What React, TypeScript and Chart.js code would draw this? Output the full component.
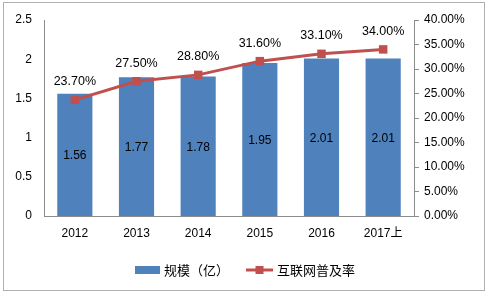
import React, { useEffect, useRef } from "react";
import { Chart, registerables } from "chart.js";

Chart.register(...registerables);

const categories = ["2012", "2013", "2014", "2015", "2016", "2017上"];
const scaleValues = [1.56, 1.77, 1.78, 1.95, 2.01, 2.01];
const penetrationValues = [23.7, 27.5, 28.8, 31.6, 33.1, 34.0];
const seriesNames = ["规模（亿）", "互联网普及率"];
const leftMax = 2.5;
const leftStep = 0.5;
const rightMax = 40;
const rightStep = 5;

const BLUE = "#4F81BD";
const RED = "#C0504D";
const AXIS = "#8c8c8c";
const NUM_FONT = "'Liberation Sans', Arial, sans-serif";
const CJK_FONT = "'Liberation Sans', 'Noto Sans CJK SC', sans-serif";

const labelPlugin = {
  id: "labelsAndLegend",
  beforeDraw(chart: any) {
    const ctx = chart.ctx;
    ctx.save();
    ctx.fillStyle = "#ffffff";
    ctx.fillRect(0, 0, chart.width, chart.height);
    ctx.strokeStyle = "#b0b0b0";
    ctx.lineWidth = 1;
    ctx.strokeRect(3.5, 2.5, 481, 288);
    ctx.restore();
  },
  afterDatasetsDraw(chart: any) {
    const ctx = chart.ctx;
    ctx.save();
    ctx.fillStyle = "#000000";
    ctx.textAlign = "center";
    ctx.textBaseline = "middle";
    ctx.font = `12px ${NUM_FONT}`;
    const barMeta = chart.getDatasetMeta(0);
    barMeta.data.forEach((bar: any, i: number) => {
      const p = bar.getProps(["x", "y", "base"], true);
      const v = chart.data.datasets[0].data[i] as number;
      ctx.fillText(v.toFixed(2), p.x, (p.y + p.base) / 2 + 1);
    });
    ctx.font = `12.5px ${NUM_FONT}`;
    const lineMeta = chart.getDatasetMeta(1);
    lineMeta.data.forEach((pt: any, i: number) => {
      const p = pt.getProps(["x", "y"], true);
      const v = chart.data.datasets[1].data[i] as number;
      ctx.fillText(v.toFixed(2) + "%", p.x, p.y - 18);
    });

    // legend
    const ds = chart.data.datasets;
    const ly = 270;
    ctx.fillStyle = ds[0].backgroundColor;
    ctx.fillRect(135, ly - 4, 25, 8);
    ctx.fillStyle = "#000000";
    ctx.textAlign = "left";
    ctx.font = `13px ${CJK_FONT}`;
    ctx.fillText(ds[0].label, 164, ly + 1);
    ctx.strokeStyle = ds[1].borderColor;
    ctx.lineWidth = 3;
    ctx.beginPath();
    ctx.moveTo(246, ly);
    ctx.lineTo(273, ly);
    ctx.stroke();
    ctx.fillStyle = ds[1].borderColor;
    ctx.fillRect(255.5, ly - 4, 8, 8);
    ctx.fillStyle = "#000000";
    ctx.fillText(ds[1].label, 277, ly + 1);
    ctx.restore();
  },
};

export default function App() {
  const ref = useRef<HTMLCanvasElement | null>(null);
  useEffect(() => {
    if (!ref.current) return;
    const chart = new Chart(ref.current, {
      type: "bar",
      data: {
        labels: categories,
        datasets: [
          {
            type: "bar",
            label: seriesNames[0],
            data: scaleValues,
            backgroundColor: BLUE,
            borderWidth: 0,
            barPercentage: 0.57,
            categoryPercentage: 1,
            yAxisID: "y",
            order: 2,
          },
          {
            type: "line",
            label: seriesNames[1],
            data: penetrationValues,
            borderColor: RED,
            backgroundColor: RED,
            borderWidth: 3,
            pointStyle: "rect",
            pointRadius: 6,
            pointBackgroundColor: RED,
            pointBorderWidth: 0,
            tension: 0,
            yAxisID: "y1",
            order: 1,
          },
        ] as any,
      },
      options: {
        responsive: false,
        animation: false,
        devicePixelRatio: 1,
        layout: { padding: { top: 20, bottom: 0, left: 0, right: 0 } },
        plugins: {
          legend: { display: false },
          tooltip: { enabled: false },
        },
        scales: {
          x: {
            grid: { display: false, drawTicks: false },
            border: { display: true, color: AXIS, width: 1 },
            ticks: {
              color: "#000",
              font: { size: 12, family: CJK_FONT },
              padding: 10,
              maxRotation: 0,
            },
            afterFit(scale: any) {
              scale.height = 80;
            },
          },
          y: {
            position: "left",
            min: 0,
            max: leftMax,
            grid: { display: false, drawTicks: false },
            border: { display: true, color: AXIS, width: 1 },
            ticks: {
              stepSize: leftStep,
              color: "#000",
              font: { size: 12, family: NUM_FONT },
              padding: 12,
              callback: (v: any) => String(v),
            },
            afterFit(scale: any) {
              scale.width = 44;
            },
          },
          y1: {
            position: "right",
            min: 0,
            max: rightMax,
            grid: {
              display: true,
              drawOnChartArea: false,
              drawTicks: true,
              tickLength: 5,
              color: AXIS,
            },
            border: { display: true, color: AXIS, width: 1 },
            ticks: {
              stepSize: rightStep,
              color: "#000",
              font: { size: 12, family: NUM_FONT },
              padding: 5,
              callback: (v: any) => Number(v).toFixed(2) + "%",
            },
            afterFit(scale: any) {
              scale.width = 74;
            },
          },
        },
      } as any,
      plugins: [labelPlugin],
    });
    return () => chart.destroy();
  }, []);
  return (
    <div style={{ position: "fixed", left: 0, top: 0, width: 488, height: 296, background: "#fff" }}>
      <canvas ref={ref} width={488} height={296} style={{ display: "block" }} />
    </div>
  );
}
